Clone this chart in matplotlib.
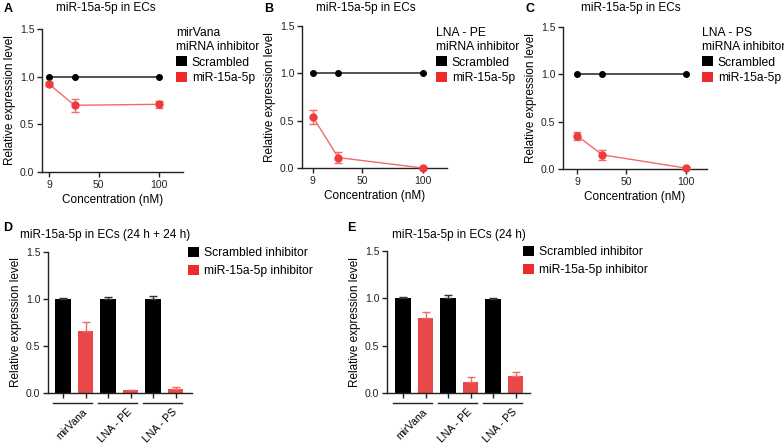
import numpy as np
import matplotlib
matplotlib.use('Agg')
import matplotlib.pyplot as plt
import matplotlib.transforms as mtransforms
from matplotlib.patches import Patch

plt.rcParams['font.family'] = ['Liberation Sans', 'DejaVu Sans']
plt.rcParams['axes.linewidth'] = 1.0

#dose response data (A-C)
conc = [9, 30, 100]
conc_ticks = [9, 50, 100]
scrambled_xy = [1.0, 1.0, 1.0]
mirvana_inh = [0.92, 0.70, 0.71]
mirvana_err = [0.02, 0.07, 0.04]
lna_pe_inh = [0.54, 0.11, 0.0]
lna_pe_err = [0.07, 0.06, 0.01]
lna_ps_inh = [0.35, 0.15, 0.01]
lna_ps_err = [0.04, 0.05, 0.01]

#bar data (D-E)
groups = ['mirVana', 'LNA - PE', 'LNA - PS']
d_scr = [1.0, 1.0, 1.0]
d_scr_err = [0.01, 0.02, 0.03]
d_inh = [0.66, 0.03, 0.04]
d_inh_err = [0.10, 0.005, 0.02]
e_scr = [1.0, 1.0, 0.99]
e_scr_err = [0.01, 0.03, 0.01]
e_inh = [0.79, 0.12, 0.18]
e_inh_err = [0.07, 0.05, 0.04]

W, H = 784, 446
fig = plt.figure(figsize=(W / 100, H / 100), dpi=100)

RED = '#ee3b3b'
RED_LINE = '#f26a6a'
RED_BAR = '#e84848'
AX_COL = '#222222'


def px_axes(l, t, r, b):
    return fig.add_axes([l / W, 1 - b / H, (r - l) / W, (b - t) / H])


def style(ax):
    for s in ['top', 'right']:
        ax.spines[s].set_visible(False)
    for s in ['left', 'bottom']:
        ax.spines[s].set_color(AX_COL)
    ax.tick_params(direction='out', length=3.5, width=1, colors=AX_COL,
                   labelsize=7.5, pad=2)
    ax.set_ylim(0, 1.5)
    ax.set_yticks([0.0, 0.5, 1.0, 1.5])
    ax.set_yticklabels(['0.0', '0.5', '1.0', '1.5'])
    ax.set_ylabel('Relative expression level', fontsize=8.5, labelpad=3)


def legend_px(handles, labels, x, y, title=None, spacing=0.3):
    leg = fig.legend(handles, labels, loc='upper left',
                     bbox_to_anchor=(x / W, 1 - y / H), frameon=False,
                     fontsize=8.7, title=title, title_fontsize=8.7,
                     handlelength=0.9, handleheight=0.9, handletextpad=0.4,
                     labelspacing=spacing, borderpad=0, borderaxespad=0,
                     alignment='left')
    return leg


def text_px(x, y, s, **kw):
    fig.text(x / W, 1 - y / H, s, **kw)


#dose response panels
xy_panels = [
    ('A', (42, 29, 183, 172), (3, 120), mirvana_inh, mirvana_err, 'mirVana\nmiRNA inhibitor', (176, 27), 106),
    ('B', (302, 26, 447, 168), (0, 120), lna_pe_inh, lna_pe_err, 'LNA - PE\nmiRNA inhibitor', (436, 27), 366),
    ('C', (563, 27, 707, 169), (-3, 118), lna_ps_inh, lna_ps_err, 'LNA - PS\nmiRNA inhibitor', (702, 27), 631),
]
for letter, box, xlim, inh, err, leg_title, leg_pos, title_x in xy_panels:
    ax = px_axes(*box)
    style(ax)
    ax.plot(conc, scrambled_xy, color='#333333', lw=1.2, marker='o',
            ms=4, mfc='black', mec='black', clip_on=False, zorder=3)
    ax.errorbar(conc, inh, yerr=err, color=RED_LINE, lw=1.0, marker='o',
                ms=5, mfc=RED, mec=RED, ecolor=RED_LINE, elinewidth=1,
                capsize=3, capthick=1, clip_on=False, zorder=4)
    ax.set_xlim(*xlim)
    ax.set_xticks(conc_ticks)
    ax.set_xticklabels([str(c) for c in conc_ticks])
    ax.set_xlabel('Concentration (nM)', fontsize=8.5, labelpad=3)
    text_px(title_x, 8, 'miR-15a-5p in ECs', fontsize=8.5, ha='center', va='center')
    text_px(box[0] - 38, 3, letter, fontsize=9, fontweight='bold', va='top', ha='left')
    handles = [Patch(facecolor='black', edgecolor='none'),
               Patch(facecolor='#ee2a2a', edgecolor='none')]
    legend_px(handles, ['Scrambled', 'miR-15a-5p'], leg_pos[0], leg_pos[1],
              title=leg_title)

#bar panels
bar_panels = [
    ('D', 3, (48, 252, 192, 393), (-0.67, 5.73), d_scr, d_scr_err, d_inh, d_inh_err,
     'miR-15a-5p in ECs (24 h + 24 h)', 20, (188, 247)),
    ('E', 347, (387, 251, 530, 393), (-0.71, 5.64), e_scr, e_scr_err, e_inh, e_inh_err,
     'miR-15a-5p in ECs (24 h)', 392, (523, 246)),
]
x_grp = np.arange(len(groups)) * 2.0
for letter, letter_x, box, xlim, scr, scr_err, inh, inh_err, title, title_x, leg_pos in bar_panels:
    ax = px_axes(*box)
    style(ax)
    ax.bar(x_grp, scr, width=0.68, color='black', zorder=2)
    ax.errorbar(x_grp, scr, yerr=[np.zeros(3), scr_err], fmt='none',
                ecolor='#333333', elinewidth=1, capsize=3, capthick=1)
    ax.bar(x_grp + 1, inh, width=0.68, color=RED_BAR, zorder=2)
    ax.errorbar(x_grp + 1, inh, yerr=[np.zeros(3), inh_err], fmt='none',
                ecolor=RED_LINE, elinewidth=1, capsize=3, capthick=1)
    ax.set_xlim(*xlim)
    ax.set_xticks(np.sort(np.concatenate([x_grp, x_grp + 1])))
    ax.set_xticklabels([])
    trans = mtransforms.blended_transform_factory(ax.transData, ax.transAxes)
    for g, name in zip(x_grp, groups):
        ax.plot([g - 0.44, g + 1.29], [-0.072, -0.072], color=AX_COL, lw=1,
                transform=trans, clip_on=False)
        ax.text(g + 0.85, -0.10, name, rotation=45, rotation_mode='anchor',
                ha='right', va='top', fontsize=7.6, transform=trans)
    text_px(letter_x, 222, letter, fontsize=9, fontweight='bold', va='top', ha='left')
    text_px(title_x, 235, title, fontsize=8.5, va='center', ha='left')
    handles = [Patch(facecolor='black', edgecolor='none'),
               Patch(facecolor='#ee2a2a', edgecolor='none')]
    legend_px(handles, ['Scrambled inhibitor', 'miR-15a-5p inhibitor'],
              leg_pos[0], leg_pos[1], spacing=0.5)

fig.savefig('out.png', dpi=100)
